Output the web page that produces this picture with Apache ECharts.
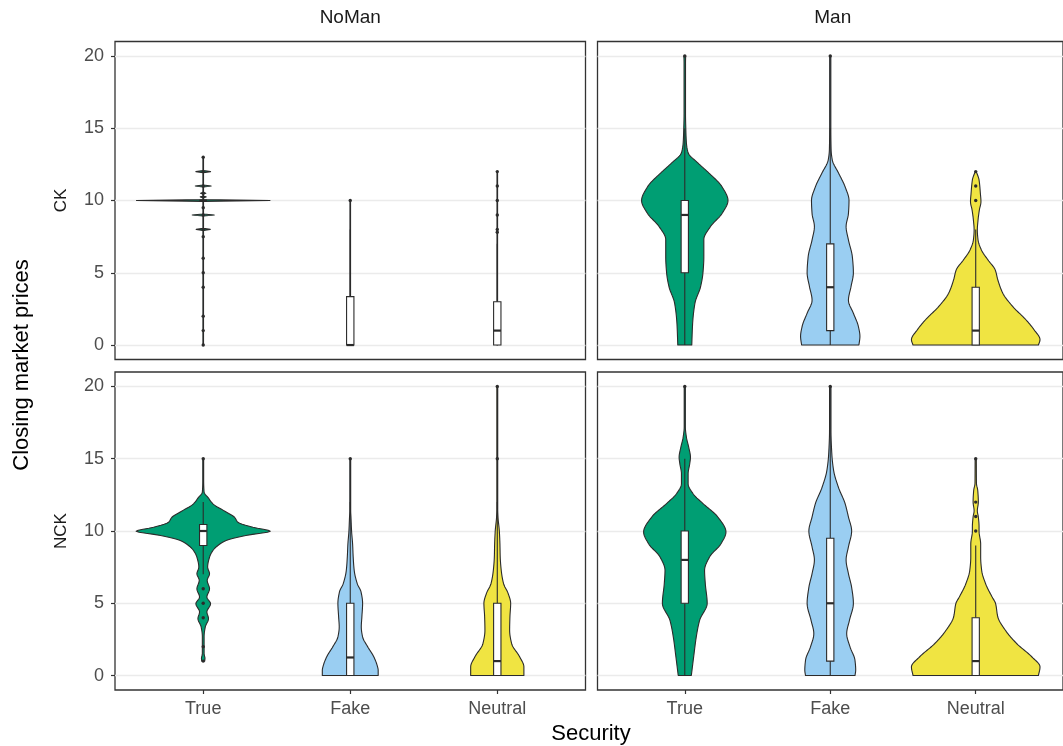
<!DOCTYPE html>
<html><head><meta charset="utf-8">
<script src="https://cdn.jsdelivr.net/npm/echarts@6/dist/echarts.min.js"></script>
<style>html,body{margin:0;padding:0;background:#fff}#c{width:1063px;height:746px}</style>
</head><body><div id="c"></div><script>
// ---------- data ----------
const categories = ['True', 'Fake', 'Neutral'];
const colFacets = ['NoMan', 'Man'];
const rowFacets = ['CK', 'NCK'];
const yTicks = [0, 5, 10, 15, 20];
const fillColors = ['#009E73', '#9ACEF2', '#F0E442'];

// violin profiles: [price, half-width in x-axis units]
const violin_CK_NoMan_True = [[0,0.002],[7.93,0.002],[8,0.048],[8.07,0.002],[8.93,0.002],[9,0.075],[9.07,0.002],[9.94,0.002],[10,0.454],[10.06,0.002],[10.2,0.002],[10.25,0.02],[10.3,0.002],[10.45,0.002],[10.5,0.018],[10.55,0.002],[10.93,0.002],[11,0.054],[11.07,0.002],[11.93,0.002],[12,0.05],[12.07,0.002],[13,0.002]];
const violin_CK_NoMan_Fake = [[0,0.002],[10,0.002]];
const violin_CK_NoMan_Neutral = [[0,0.002],[12,0.002]];
const violin_CK_Man_True = [[0,0.048],[1.5,0.054],[2.9,0.07],[4.05,0.109],[5,0.125],[6.1,0.131],[7.3,0.131],[8.2,0.177],[9.1,0.256],[10,0.297],[10.95,0.256],[11.9,0.166],[12.6,0.09],[13.3,0.023],[14,0.011],[15,0.007],[16,0.005],[19.5,0.005],[20,0.006]];
const violin_CK_Man_Fake = [[0,0.197],[0.6,0.204],[1.3,0.193],[2.2,0.159],[3.1,0.125],[4.05,0.143],[5,0.159],[6.1,0.152],[7.27,0.125],[8.2,0.109],[9.1,0.125],[10,0.129],[10.95,0.102],[11.9,0.057],[12.8,0.014],[13.5,0.006],[15,0.004],[20,0.004]];
const violin_CK_Man_Neutral = [[0,0.431],[0.37,0.442],[1.06,0.401],[1.75,0.345],[2.67,0.254],[3.59,0.186],[4.51,0.152],[5.2,0.134],[5.89,0.084],[6.58,0.039],[7.27,0.016],[7.96,0.011],[8.65,0.016],[9.34,0.025],[9.92,0.036],[10.49,0.032],[11.42,0.023],[12,0.004]];
const violin_NCK_NoMan_True = [[1,0.01],[1.2,0.012],[1.5,0.006],[2.7,0.006],[3.36,0.014],[3.94,0.036],[4.4,0.025],[4.97,0.05],[5.43,0.025],[6.0,0.043],[6.58,0.027],[7.04,0.043],[7.5,0.03],[8.19,0.043],[8.65,0.066],[9.0,0.1],[9.34,0.156],[9.69,0.29],[9.99,0.456],[10.26,0.338],[10.6,0.236],[10.95,0.213],[11.3,0.159],[11.88,0.066],[12.33,0.032],[12.68,0.006],[13.5,0.003],[15,0.003]];
const violin_NCK_NoMan_Fake = [[0,0.19],[0.37,0.19],[0.7,0.183],[1.3,0.16],[2,0.118],[2.67,0.084],[3.36,0.075],[4.05,0.079],[5,0.084],[5.8,0.073],[6.35,0.048],[7.27,0.027],[8.2,0.02],[9.1,0.016],[10,0.009],[10.95,0.005],[11.4,0.003],[15,0.003]];
const violin_NCK_NoMan_Neutral = [[0,0.181],[0.6,0.181],[1.3,0.152],[2.2,0.098],[3.13,0.084],[4.05,0.086],[5,0.091],[5.7,0.073],[6.35,0.043],[7.27,0.027],[8.2,0.02],[9.1,0.018],[10,0.014],[10.95,0.005],[11.5,0.003],[20,0.003]];
const violin_NCK_Man_True = [[0,0.045],[1.29,0.061],[2.67,0.079],[3.82,0.102],[5,0.154],[6.36,0.141],[7.28,0.136],[8.2,0.17],[9.12,0.249],[9.93,0.283],[10.97,0.227],[11.9,0.125],[12.58,0.057],[13.27,0.023],[13.96,0.023],[14.65,0.034],[15.1,0.039],[15.8,0.027],[16.5,0.011],[17.2,0.004],[20,0.004]];
const violin_NCK_Man_Fake = [[0,0.17],[0.37,0.175],[1.06,0.17],[1.98,0.136],[2.9,0.113],[3.82,0.132],[5,0.159],[6.1,0.147],[7.05,0.125],[8,0.109],[8.9,0.125],[10,0.147],[10.97,0.125],[11.9,0.102],[13,0.057],[14.2,0.023],[15.3,0.011],[17,0.005],[20,0.005]];
const violin_NCK_Man_Neutral = [[0,0.431],[0.6,0.442],[1.3,0.385],[2.2,0.283],[3.13,0.204],[4.05,0.152],[5,0.136],[5.43,0.113],[6.35,0.068],[7.27,0.041],[8.2,0.034],[9.1,0.034],[10,0.023],[10.3,0.023],[10.97,0.018],[11.4,0.011],[12,0.018],[12.8,0.014],[13.3,0.005],[15,0.004]];

// box stats: [lower whisker, Q1, median, Q3, upper whisker]
const box_CK_NoMan = [[10,10,10,10,10],[0,0,0,3.35,8],[0,0,1,3,7]];
const box_CK_Man = [[0,5,9,10,15],[0,1,4,7,15],[0,0,1,4,8]];
const box_NCK_NoMan = [[7,9,10,10.45,12],[0,0,1.25,5,12],[0,0,1,5,12]];
const box_NCK_Man = [[0,5,8,10,15],[0,1,5,9.5,20],[0,0,1,4,9]];

// outliers
const out_CK_NoMan = [[0,1,2,4,5,6,7.5,8,9,9.5,10.25,10.5,11,12,13],[10],[7.8,8,9,10,11,12]];
const out_CK_Man = [[20],[20],[10,11,12]];
const out_NCK_NoMan = [[1,2,4,5,6,15],[15],[15,20]];
const out_NCK_Man = [[20],[20],[10,11,12,15]];

// ---------- assembly ----------
const violins = [
  [violin_CK_NoMan_True, violin_CK_NoMan_Fake, violin_CK_NoMan_Neutral],
  [violin_CK_Man_True, violin_CK_Man_Fake, violin_CK_Man_Neutral],
  [violin_NCK_NoMan_True, violin_NCK_NoMan_Fake, violin_NCK_NoMan_Neutral],
  [violin_NCK_Man_True, violin_NCK_Man_Fake, violin_NCK_Man_Neutral]
];
const boxes = [box_CK_NoMan, box_CK_Man, box_NCK_NoMan, box_NCK_Man];
const outs = [out_CK_NoMan, out_CK_Man, out_NCK_NoMan, out_NCK_Man];

// monotone cubic (Fritsch–Carlson) resampling of a profile for a smooth outline
function densify(prof, step) {
  const n = prof.length;
  if (n < 3) return prof;
  const xs = prof.map(d => d[0]), ys = prof.map(d => d[1]);
  const dx = [], s = [], m = new Array(n);
  for (let i = 0; i < n - 1; i++) { dx[i] = xs[i + 1] - xs[i]; s[i] = (ys[i + 1] - ys[i]) / dx[i]; }
  m[0] = s[0]; m[n - 1] = s[n - 2];
  for (let i = 1; i < n - 1; i++) {
    if (s[i - 1] * s[i] <= 0) m[i] = 0;
    else m[i] = 3 * (dx[i - 1] + dx[i]) / ((2 * dx[i] + dx[i - 1]) / s[i - 1] + (dx[i] + 2 * dx[i - 1]) / s[i]);
  }
  const out = [];
  for (let i = 0; i < n - 1; i++) {
    const k = Math.max(1, Math.ceil(dx[i] / step));
    for (let j = 0; j < k; j++) {
      const t = j / k, h = dx[i];
      const h00 = 2*t*t*t - 3*t*t + 1, h10 = t*t*t - 2*t*t + t, h01 = -2*t*t*t + 3*t*t, h11 = t*t*t - t*t;
      out.push([xs[i] + t * h, Math.max(0.0015, h00 * ys[i] + h10 * h * m[i] + h01 * ys[i + 1] + h11 * h * m[i + 1])]);
    }
  }
  out.push(prof[n - 1]);
  return out;
}

const FONT = '"Liberation Sans", Arial, Helvetica, sans-serif';
const INK = '#2b2b2b';
const gridLeft = [115, 597.5], gridTop = [41.5, 372], gridW = 470.5, gridH = 318;
const BOXHW = 0.025;

const grids = [], xAxes = [], yAxes = [], series = [];
for (let p = 0; p < 4; p++) {
  const r = Math.floor(p / 2), c = p % 2;
  grids.push({ left: gridLeft[c], top: gridTop[r], width: gridW, height: gridH, show: true,
    borderColor: '#333', borderWidth: 1.3, backgroundColor: 'transparent', containLabel: false });
  xAxes.push({ type: 'value', gridIndex: p, min: 0.4, max: 3.6, position: 'bottom',
    axisLine: { show: false, onZero: false }, splitLine: { show: false },
    axisTick: { show: r === 1, customValues: [1, 2, 3], length: 4, lineStyle: { color: '#333', width: 1.2 } },
    axisLabel: { show: r === 1, customValues: [1, 2, 3], formatter: v => categories[Math.round(v) - 1],
      color: '#4d4d4d', fontSize: 18, fontFamily: FONT, margin: 10 } });
  yAxes.push({ type: 'value', gridIndex: p, min: -1, max: 21, position: 'left',
    axisLine: { show: false, onZero: false },
    splitLine: { show: true, lineStyle: { color: '#ebebeb', width: 1.3 } },
    axisTick: { show: c === 0, customValues: yTicks, length: 4, lineStyle: { color: '#333', width: 1.2 } },
    axisLabel: { show: c === 0, customValues: yTicks, color: '#4d4d4d', fontSize: 18, fontFamily: FONT, margin: 11 } });
  series.push({
    type: 'custom', xAxisIndex: p, yAxisIndex: p, coordinateSystem: 'cartesian2d',
    data: categories.map((_, i) => [i + 1]),
    encode: { x: 0 },
    clip: false, silent: true,
    renderItem: (params, api) => {
      const i = params.dataIndex;
      const xc = api.value(0);
      const spiky = (p === 0 && i === 0);
      const prof = spiky ? violins[p][i] : densify(violins[p][i], 0.08);
      const bx = boxes[p][i];
      const pts = prof.map(d => api.coord([xc + d[1], d[0]]))
        .concat(prof.slice().reverse().map(d => api.coord([xc - d[1], d[0]])));
      const cc = (x, y) => api.coord([x, y]);
      const ch = [];
      ch.push({ type: 'polygon', shape: { points: pts },
        style: { fill: fillColors[i], stroke: INK, lineWidth: 1.1, lineJoin: 'round' } });
      const a = cc(xc, bx[0]), q1 = cc(xc, bx[1]), q3 = cc(xc, bx[3]), b = cc(xc, bx[4]);
      ch.push({ type: 'line', shape: { x1: a[0], y1: a[1], x2: q1[0], y2: q1[1] }, style: { stroke: INK, lineWidth: 1.1 } });
      ch.push({ type: 'line', shape: { x1: q3[0], y1: q3[1], x2: b[0], y2: b[1] }, style: { stroke: INK, lineWidth: 1.1 } });
      const tl = cc(xc - BOXHW, bx[3]), br = cc(xc + BOXHW, bx[1]);
      ch.push({ type: 'rect', shape: { x: tl[0], y: tl[1], width: br[0] - tl[0], height: br[1] - tl[1] },
        style: { fill: '#fff', stroke: INK, lineWidth: 1.1 } });
      const m1 = cc(xc - BOXHW, bx[2]), m2 = cc(xc + BOXHW, bx[2]);
      ch.push({ type: 'line', shape: { x1: m1[0], y1: m1[1], x2: m2[0], y2: m2[1] }, style: { stroke: INK, lineWidth: 2.2 } });
      outs[p][i].forEach(v => {
        const o = cc(xc, v);
        ch.push({ type: 'circle', shape: { cx: o[0], cy: o[1], r: 1.7 }, style: { fill: INK } });
      });
      return { type: 'group', children: ch };
    }
  });
}

const txt = (x, y, text, size, color, rot) => ({
  type: 'text', x: x, y: y, rotation: rot || 0, silent: true,
  style: { text: text, fill: color, font: size + 'px ' + FONT, textAlign: 'center', textVerticalAlign: 'middle' }
});
const graphics = [
  txt(gridLeft[0] + gridW / 2, 18, colFacets[0], 19, '#1a1a1a'),
  txt(gridLeft[1] + gridW / 2, 18, colFacets[1], 19, '#1a1a1a'),
  txt(61, gridTop[0] + gridH / 2, rowFacets[0], 17, '#1a1a1a', Math.PI / 2),
  txt(61, gridTop[1] + gridH / 2, rowFacets[1], 17, '#1a1a1a', Math.PI / 2),
  txt(22, 365, 'Closing market prices', 22, '#000', Math.PI / 2),
  txt(591, 734, 'Security', 22, '#000')
];

const chart = echarts.init(document.getElementById('c'), null, { renderer: 'canvas' });
chart.setOption({
  animation: false, backgroundColor: '#fff',
  grid: grids, xAxis: xAxes, yAxis: yAxes, series: series, graphic: graphics
});
</script></body></html>
